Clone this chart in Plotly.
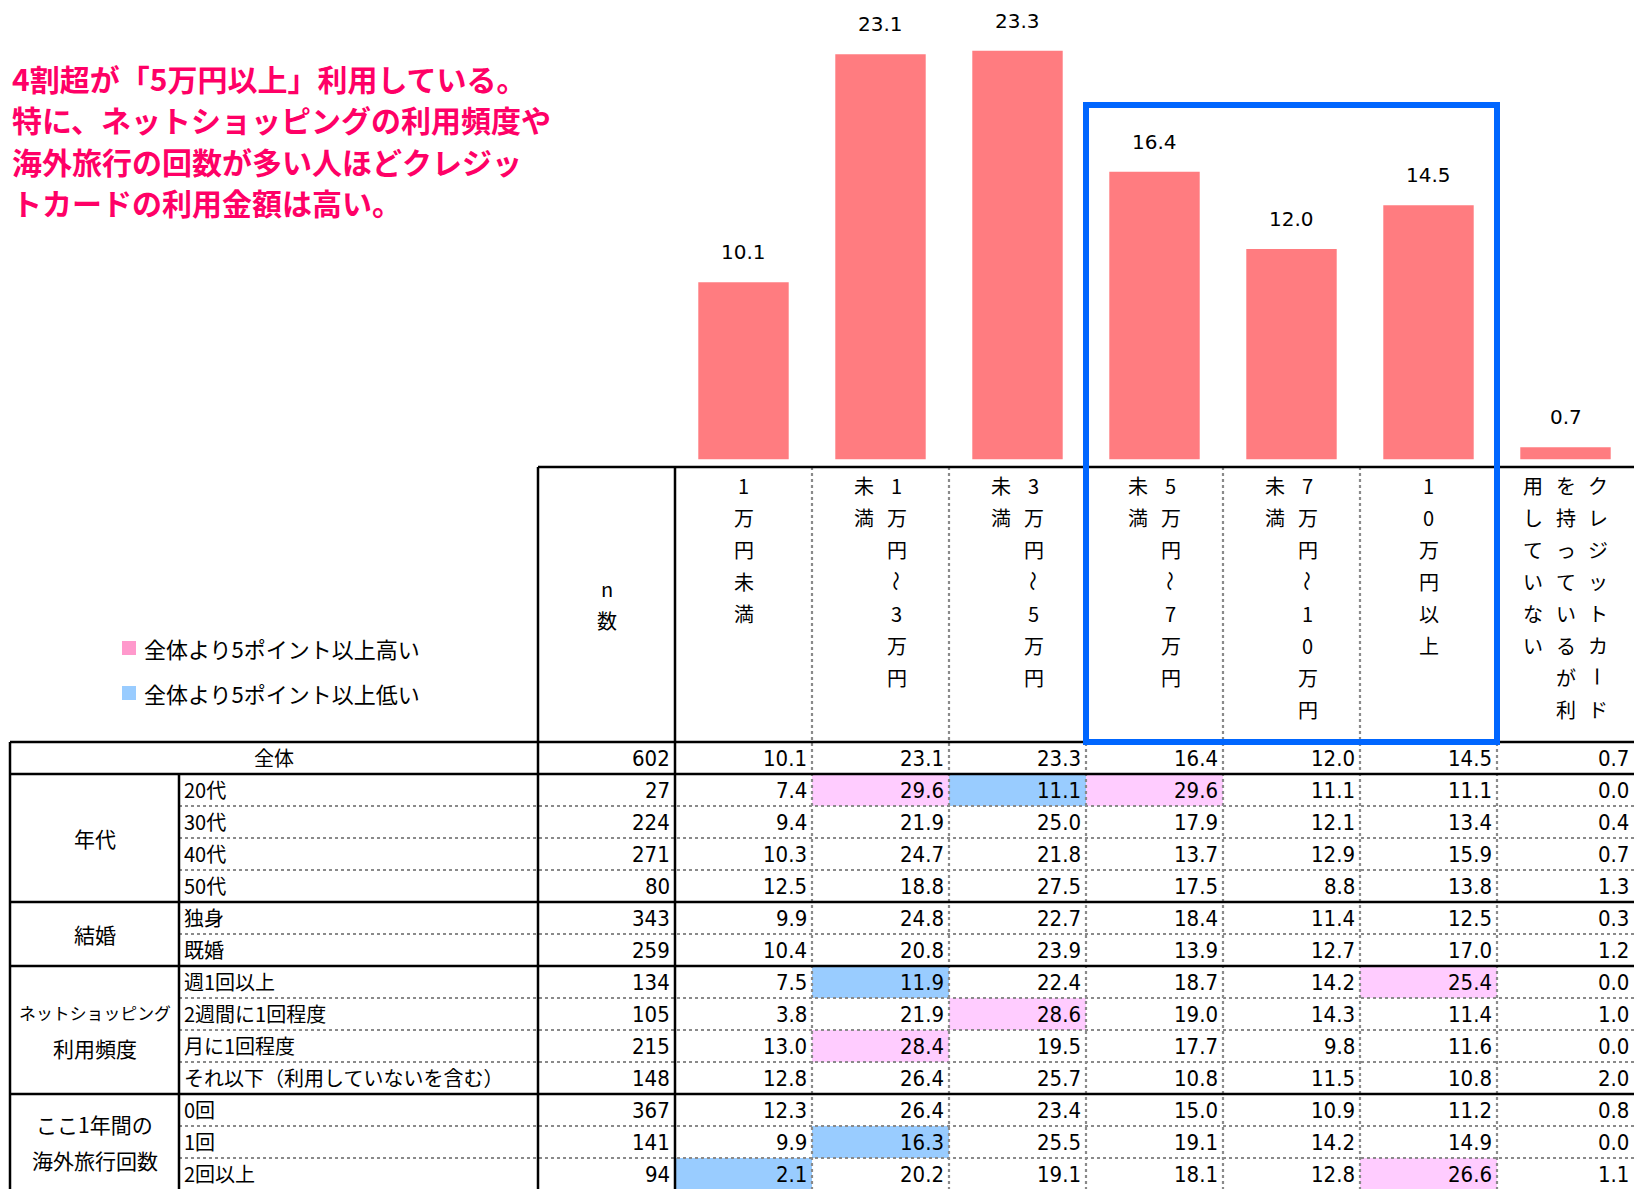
import plotly.graph_objects as go

# ---------------- data ----------------
TITLE_LINES = ["4割超が「5万円以上」利用している。",
               "特に、ネットショッピングの利用頻度や",
               "海外旅行の回数が多い人ほどクレジッ",
               "トカードの利用金額は高い。"]
LEGEND_LABELS = ["全体より5ポイント以上高い", "全体より5ポイント以上低い"]

CATEGORIES = ["1万円未満", "1万円～3万円未満", "3万円～5万円未満", "5万円～7万円未満",
              "7万円～10万円未満", "10万円以上", "クレジットカードを持っているが利用していない"]
# vertical header text, columns read right-to-left
HEADER_COLUMNS = [["1万円未満"],
                  ["1万円～3万円", "未満"],
                  ["3万円～5万円", "未満"],
                  ["5万円～7万円", "未満"],
                  ["7万円～10万円", "未満"],
                  ["10万円以上"],
                  ["クレジットカード", "を持っているが利", "用していない"]]
N_LABEL = "n数"

TOTAL_LABEL = "全体"
TOTAL_N = 602
TOTAL_VALUES = [10.1, 23.1, 23.3, 16.4, 12.0, 14.5, 0.7]

GROUP_LABELS = [["年代"], ["結婚"], ["ネットショッピング", "利用頻度"], ["ここ1年間の", "海外旅行回数"]]
GROUP_SIZES = [4, 2, 4, 3]
ROW_LABELS = ["20代", "30代", "40代", "50代",
              "独身", "既婚",
              "週1回以上", "2週間に1回程度", "月に1回程度", "それ以下（利用していないを含む）",
              "0回", "1回", "2回以上"]
ROW_N = [27, 224, 271, 80, 343, 259, 134, 105, 215, 148, 367, 141, 94]
ROW_VALUES = [
    [7.4, 29.6, 11.1, 29.6, 11.1, 11.1, 0.0],
    [9.4, 21.9, 25.0, 17.9, 12.1, 13.4, 0.4],
    [10.3, 24.7, 21.8, 13.7, 12.9, 15.9, 0.7],
    [12.5, 18.8, 27.5, 17.5, 8.8, 13.8, 1.3],
    [9.9, 24.8, 22.7, 18.4, 11.4, 12.5, 0.3],
    [10.4, 20.8, 23.9, 13.9, 12.7, 17.0, 1.2],
    [7.5, 11.9, 22.4, 18.7, 14.2, 25.4, 0.0],
    [3.8, 21.9, 28.6, 19.0, 14.3, 11.4, 1.0],
    [13.0, 28.4, 19.5, 17.7, 9.8, 11.6, 0.0],
    [12.8, 26.4, 25.7, 10.8, 11.5, 10.8, 2.0],
    [12.3, 26.4, 23.4, 15.0, 10.9, 11.2, 0.8],
    [9.9, 16.3, 25.5, 19.1, 14.2, 14.9, 0.0],
    [2.1, 20.2, 19.1, 18.1, 12.8, 26.6, 1.1],
]
# "H" = 5pt or more above total, "L" = 5pt or more below total
ROW_FLAGS = [
    ["", "H", "L", "H", "", "", ""],
    ["", "", "", "", "", "", ""],
    ["", "", "", "", "", "", ""],
    ["", "", "", "", "", "", ""],
    ["", "", "", "", "", "", ""],
    ["", "", "", "", "", "", ""],
    ["", "L", "", "", "", "H", ""],
    ["", "", "H", "", "", "", ""],
    ["", "H", "", "", "", "", ""],
    ["", "", "", "", "", "", ""],
    ["", "", "", "", "", "", ""],
    ["", "L", "", "", "", "", ""],
    ["L", "", "", "", "", "H", ""],
]
HIGHLIGHT_BOX = (4, 6)  # category range framed in blue

# ---------------- layout / style constants ----------------
W, H = 1634, 1189
COL_PX = 137.0
X_C1_PX = 743.5
ROW_PX = 32.0
TABLE_TOP_PX = 742.0
BAR_BASE_PX = 459.6
BAR_PX_PER_UNIT = 17.55


def px_to_x(p):
    return (p - X_C1_PX) / COL_PX + 1


def py_to_y2(p):
    return (p - TABLE_TOP_PX) / ROW_PX


X_MIN, X_MAX = px_to_x(0), px_to_x(W)
Y2_TOP, Y2_BOTTOM = py_to_y2(0), py_to_y2(H)
X_LEFT = px_to_x(10)
X_COL2 = px_to_x(179)
HEAD_TOP = py_to_y2(467)
HEAD_CHAR0 = py_to_y2(485)
COL_TEXT_SP = 0.24
BOX_TOP = py_to_y2(105)

CJK = "Noto Sans CJK JP"
NUM = "DejaVu Sans Condensed, DejaVu Sans"
BAR_COLOR = "#FF7C80"
HIGH_FILL = "#FFCCFF"
LOW_FILL = "#99CCFF"
HIGH_KEY = "#FF99CC"
LOW_KEY = "#99CCFF"
TITLE_COLOR = "#FF0066"
BOX_COLOR = "#0066FF"
THICK = dict(color="black", width=2.5)
DOT = dict(color="#8a8a8a", width=2.2, dash="dot")

n_rows = 1 + len(ROW_LABELS)
cat_x = list(range(1, len(CATEGORIES) + 1))

fig = go.Figure()

# bars
fig.add_trace(go.Bar(x=cat_x, y=TOTAL_VALUES, width=0.66, marker=dict(color=BAR_COLOR, line=dict(width=0)),
                     xaxis="x", yaxis="y", hoverinfo="skip", showlegend=False))

# highlight cells
z = [[None] * len(CATEGORIES)]
for flags in ROW_FLAGS:
    z.append([1 if f == "H" else (0 if f == "L" else None) for f in flags])
fig.add_trace(go.Heatmap(x=cat_x, y=[r + 0.5 for r in range(n_rows)], z=z, zmin=0, zmax=1,
                         colorscale=[[0, LOW_FILL], [1, HIGH_FILL]], showscale=False,
                         xaxis="x", yaxis="y2", hoverinfo="skip", xgap=0, ygap=0))

shapes = []
annotations = []


def hline(y, x0, x1, line):
    shapes.append(dict(type="line", xref="x", yref="y2", x0=x0, x1=x1, y0=y, y1=y, line=line, layer="above"))


def vline(x, y0, y1, line):
    shapes.append(dict(type="line", xref="x", yref="y2", x0=x, x1=x, y0=y0, y1=y1, line=line, layer="above"))


def ann(x, y, text, size, family=CJK, color="black", xanchor="center", yanchor="middle",
        xref="x", yref="y2", **kw):
    annotations.append(dict(x=x, y=y, text=text, xref=xref, yref=yref, showarrow=False,
                            xanchor=xanchor, yanchor=yanchor,
                            font=dict(size=size, family=family, color=color), **kw))


# table grid
dot_cols = [k + 0.5 for k in range(1, len(CATEGORIES))]
for xv in dot_cols:
    vline(xv, HEAD_TOP, n_rows, DOT)
starts = [1]
for s in GROUP_SIZES:
    starts.append(starts[-1] + s)
for g, s in enumerate(GROUP_SIZES):
    for r in range(starts[g] + 1, starts[g] + s):
        hline(r, X_COL2, X_MAX, DOT)
hline(HEAD_TOP, -0.5, X_MAX, THICK)
for r in [0] + starts[:-1]:
    hline(r, X_LEFT, X_MAX, THICK)
vline(-0.5, HEAD_TOP, n_rows, THICK)
vline(0.5, HEAD_TOP, n_rows, THICK)
vline(X_LEFT, 0, n_rows, THICK)
vline(X_COL2, 1, n_rows, THICK)

# blue emphasis box
shapes.append(dict(type="rect", xref="x", yref="y2", x0=HIGHLIGHT_BOX[0] - 0.5, x1=HIGHLIGHT_BOX[1] + 0.5,
                   y0=BOX_TOP, y1=0, line=dict(color=BOX_COLOR, width=6), layer="above"))

# header text (vertical)
for k, cols in enumerate(HEADER_COLUMNS, start=1):
    nc = len(cols)
    for j, s in enumerate(cols):
        xv = k + ((nc - 1) / 2 - j) * COL_TEXT_SP
        for i, ch in enumerate(s):
            ann(xv, HEAD_CHAR0 + i, ch, 20, textangle=90 if ch in "～ー" else 0)
mid = (HEAD_TOP + 0) / 2
for i, ch in enumerate(N_LABEL):
    ann(0, mid - (len(N_LABEL) - 1) / 2 + i, ch, 20)

# bar value labels
for k, v in zip(cat_x, TOTAL_VALUES):
    ann(k, v, f"{v:.1f}", 20, family="DejaVu Sans", yref="y", yshift=30)

# total row
ann((X_LEFT - 0.5) / 2, 0.5, TOTAL_LABEL, 20, yshift=1)
ann(0.5, 0.5, str(TOTAL_N), 22, family=NUM, xanchor="right", xshift=-3)
for k, v in zip(cat_x, TOTAL_VALUES):
    ann(k + 0.5, 0.5, f"{v:.1f}", 22, family=NUM, xanchor="right", xshift=-3)

# group labels
for g, lines in enumerate(GROUP_LABELS):
    yc = starts[g] + GROUP_SIZES[g] / 2
    nl = len(lines)
    for li, t in enumerate(lines):
        size = min(21, 152 / len(t))
        ann((X_LEFT + X_COL2) / 2, yc + (li - (nl - 1) / 2) * 1.1, t, size)

# data rows
for r, (lab, n, vals) in enumerate(zip(ROW_LABELS, ROW_N, ROW_VALUES), start=1):
    ann(X_COL2, r + 0.5, lab, 20, xanchor="left", xshift=3, yshift=1)
    ann(0.5, r + 0.5, str(n), 22, family=NUM, xanchor="right", xshift=-3)
    for k, v in zip(cat_x, vals):
        ann(k + 0.5, r + 0.5, f"{v:.1f}", 22, family=NUM, xanchor="right", xshift=-3)

# legend
for li, (lab, col) in enumerate(zip(LEGEND_LABELS, [HIGH_KEY, LOW_KEY])):
    y0 = py_to_y2(641 + li * 45)
    y1 = py_to_y2(655 + li * 45)
    shapes.append(dict(type="rect", xref="x", yref="y2", x0=px_to_x(122), x1=px_to_x(136),
                       y0=y0, y1=y1, fillcolor=col, line=dict(width=0), layer="above"))
    ann(px_to_x(142), (y0 + y1) / 2, lab, 22, xanchor="left")

# title
for li, t in enumerate(TITLE_LINES):
    ann(10 / W, 1 - (78 + li * 41.3) / H, t, 30, color=TITLE_COLOR, xanchor="left",
        xref="paper", yref="paper")
for a in annotations:
    if a["font"]["color"] == TITLE_COLOR:
        a["font"]["weight"] = "bold"

fig.update_layout(
    width=W, height=H, margin=dict(l=0, r=0, t=0, b=0),
    paper_bgcolor="white", plot_bgcolor="rgba(0,0,0,0)",
    showlegend=False, hovermode=False,
    xaxis=dict(range=[X_MIN, X_MAX], visible=False, domain=[0, 1], anchor="y2", fixedrange=True),
    yaxis=dict(range=[0, BAR_BASE_PX / BAR_PX_PER_UNIT], domain=[(H - BAR_BASE_PX) / H, 1],
               visible=False, anchor="x", fixedrange=True),
    yaxis2=dict(range=[Y2_BOTTOM, Y2_TOP], domain=[0, 1], visible=False, anchor="x", fixedrange=True),
    shapes=shapes, annotations=annotations,
)

fig.write_html("out.html", config={"displayModeBar": False},
               post_script="document.body.style.margin='0';document.body.style.overflow='hidden';")
